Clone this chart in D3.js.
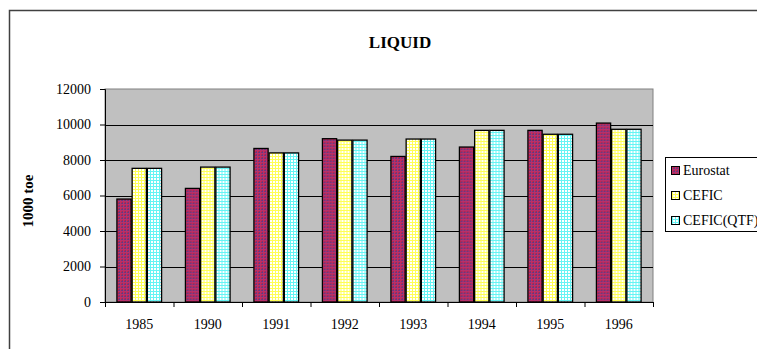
<!DOCTYPE html>
<html>
<head>
<meta charset="utf-8">
<script src="https://cdn.jsdelivr.net/npm/d3@7/dist/d3.min.js"></script>
<style>
  html, body { margin: 0; padding: 0; background: #fff; }
  svg { display: block; }
  text { font-family: "Times New Roman", "Liberation Serif", serif; fill: #000; }
</style>
</head>
<body>
<svg id="chart" width="757" height="349"></svg>
<script>
// Liquid fuel consumption, 1000 toe
const years = ["1985", "1990", "1991", "1992", "1993", "1994", "1995", "1996"];
const seriesNames = ["Eurostat", "CEFIC", "CEFIC(QTF)"];
const eurostat = [5800, 6400, 8650, 9200, 8200, 8730, 9670, 10080];
const cefic = [7530, 7600, 8400, 9120, 9180, 9670, 9450, 9730];
const ceficQtf = [7530, 7600, 8400, 9120, 9180, 9670, 9450, 9730];
const yTicks = [0, 2000, 4000, 6000, 8000, 10000, 12000];

const seriesValues = [eurostat, cefic, ceficQtf];

const svg = d3.select("#chart");
const plot = { left: 105, top: 89, right: 653, bottom: 302 };

// Hatched fills for each series
const defs = svg.append("defs");
function pattern(id, base, dot, size) {
  const p = defs.append("pattern").attr("id", id)
    .attr("width", size).attr("height", size)
    .attr("patternUnits", "userSpaceOnUse");
  p.append("rect").attr("width", size).attr("height", size).attr("fill", base);
  p.append("rect").attr("x", 0).attr("y", 0).attr("width", size).attr("height", 1).attr("fill", dot);
  p.append("rect").attr("x", 0).attr("y", 0).attr("width", 1).attr("height", size).attr("fill", dot);
  return p;
}
const pE = pattern("pat0", "#7d3670", "#b8306a", 3);
pE.append("rect").attr("x", 1).attr("y", 1).attr("width", 1).attr("height", 1).attr("fill", "#d02040");
pE.append("rect").attr("x", 2).attr("y", 2).attr("width", 1).attr("height", 1).attr("fill", "#5a3c8c");
pattern("pat1", "#ffffff", "#ffff55", 3);
pattern("pat2", "#ffffff", "#66f4f4", 3);
const fills = ["url(#pat0)", "url(#pat1)", "url(#pat2)"];

// Outer chart frame
svg.append("rect")
  .attr("x", 9.5).attr("y", 10.5)
  .attr("width", 800).attr("height", 400)
  .attr("fill", "#fff").attr("stroke", "#404040").attr("stroke-width", 1.5);

// Title
svg.append("text")
  .attr("x", 400).attr("y", 48)
  .attr("text-anchor", "middle")
  .style("font-size", "17px").style("font-weight", "bold")
  .text("LIQUID");

// Scales
const x = d3.scaleBand().domain(years).range([plot.left, plot.right]).padding(0);
const bw = x.bandwidth();
const gap = bw * (1.5 / 4.5);
const xs = d3.scaleBand().domain(d3.range(seriesNames.length))
  .range([gap / 2, bw - gap / 2]).padding(0);
const y = d3.scaleLinear().domain([0, 12000]).range([plot.bottom, plot.top]);

// Plot area background
svg.append("rect")
  .attr("x", plot.left).attr("y", plot.top)
  .attr("width", plot.right - plot.left).attr("height", plot.bottom - plot.top)
  .attr("fill", "#c0c0c0").attr("stroke", "#808080").attr("stroke-width", 1);

// Gridlines
svg.append("g").selectAll("line")
  .data(yTicks.filter(d => d > 0 && d < 12000))
  .join("line")
  .attr("x1", plot.left).attr("x2", plot.right)
  .attr("y1", d => Math.round(y(d)) + 0.5).attr("y2", d => Math.round(y(d)) + 0.5)
  .attr("stroke", "#000").attr("stroke-width", 1);

// Bars
const groups = svg.append("g").selectAll("g")
  .data(years)
  .join("g")
  .attr("transform", d => `translate(${x(d)},0)`);
groups.selectAll("rect")
  .data((d, i) => seriesValues.map((vals, s) => ({ s, v: vals[i] })))
  .join("rect")
  .attr("x", d => xs(d.s) + 0.5)
  .attr("y", d => y(d.v))
  .attr("width", xs.bandwidth() - 1)
  .attr("height", d => y(0) - y(d.v))
  .attr("fill", d => fills[d.s])
  .attr("stroke", "#000").attr("stroke-width", 1.3);

// Y axis
const yAxis = svg.append("g")
  .attr("transform", `translate(${plot.left},0)`)
  .call(d3.axisLeft(y).tickValues(yTicks).tickSize(5).tickPadding(9).tickFormat(d3.format("d")));
yAxis.select(".domain").attr("stroke", "#000");
yAxis.selectAll(".tick line").attr("stroke", "#000");
yAxis.selectAll("text").style("font-size", "14px").attr("font-family", null);

// X axis: tick marks between categories, labels centred under each group
const xi = d3.scaleLinear().domain([0, years.length]).range([plot.left, plot.right]);
const xMarks = svg.append("g")
  .attr("transform", `translate(0,${plot.bottom})`)
  .call(d3.axisBottom(xi).tickValues(d3.range(years.length + 1)).tickSize(5).tickFormat(""));
xMarks.select(".domain").attr("stroke", "#000");
xMarks.selectAll(".tick line").attr("stroke", "#000");

const xLabels = svg.append("g")
  .attr("transform", `translate(0,${plot.bottom})`)
  .call(d3.axisBottom(x).tickSize(0).tickPadding(17));
xLabels.select(".domain").remove();
xLabels.selectAll("text").style("font-size", "14px").attr("font-family", null);

// Y axis title
svg.append("text")
  .attr("transform", "translate(33,201) rotate(-90)")
  .attr("text-anchor", "middle")
  .style("font-size", "15px").style("font-weight", "bold")
  .text("1000 toe");

// Legend
const legend = svg.append("g");
legend.append("rect")
  .attr("x", 665.5).attr("y", 157.5)
  .attr("width", 120).attr("height", 74)
  .attr("fill", "#fff").attr("stroke", "#000").attr("stroke-width", 1);
const items = legend.selectAll("g.item")
  .data(seriesNames)
  .join("g").attr("class", "item")
  .attr("transform", (d, i) => `translate(0,${175 + i * 25})`);
items.append("rect")
  .attr("x", 671.5).attr("y", -8.5).attr("width", 8).attr("height", 8)
  .attr("fill", (d, i) => fills[i]).attr("stroke", "#000").attr("stroke-width", 1);
items.append("text")
  .attr("x", 683).attr("y", 0)
  .style("font-size", "14px")
  .text(d => d);
</script>
</body>
</html>
